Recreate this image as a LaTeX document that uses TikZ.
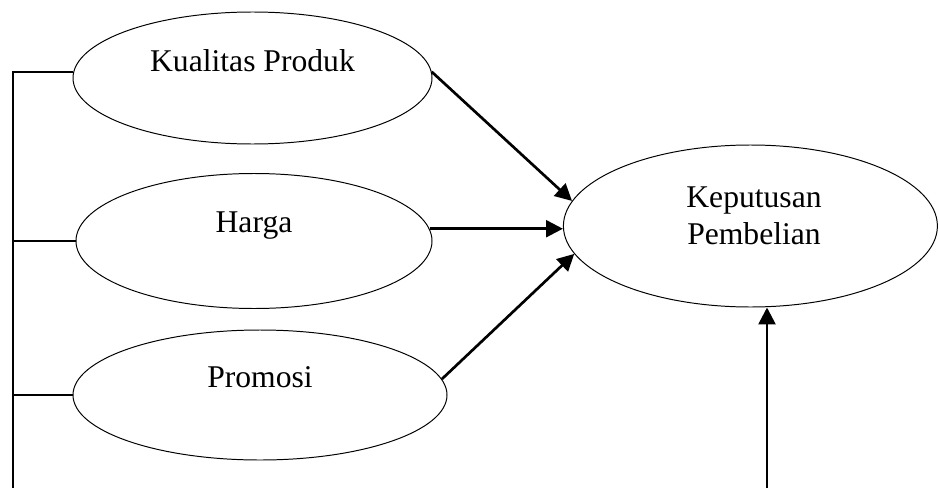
\documentclass[tikz,border=0pt]{standalone}
\usepackage{fontspec}
\setmainfont{Liberation Serif}
\usetikzlibrary{shapes, arrows.meta, positioning}

\begin{document}
\begin{tikzpicture}[-, >={Triangle[length=0.42cm, width=0.42cm]}, line width=1.5pt,
        var/.style={ellipse, draw, line width=0.7pt, inner sep=0pt},
        txt/.style={inner sep=0pt, align=center, font=\fontsize{22.5}{26.3}\selectfont},
        link/.style={->, line width=1.9pt}]
        \useasboundingbox (0, 0) rectangle (23.475, 12.2);
        \node [var, minimum width=8.975cm, minimum height=3.3cm] (kualitas) at (6.3125, 10.25) {};
        \node [var, minimum width=8.9cm, minimum height=3.375cm] (harga) at (6.35, 6.175) {};
        \node [var, minimum width=9.35cm, minimum height=3.25cm] (promosi) at (6.5, 2.325) {};
        \node [var, minimum width=9.35cm, minimum height=4.05cm] (keputusan) at (18.76, 6.55) {};
        \node [txt] (kualitasText) at ([yshift=0.44cm]kualitas.center) {Kualitas Produk};
        \node [txt] (hargaText) at ([yshift=0.375cm]harga.center) {Harga};
        \node [txt] (promosiText) at ([yshift=0.44cm]promosi.center) {Promosi};
        \node [txt] (keputusanText) at ([xshift=0.09cm, yshift=0.25cm]keputusan.center) {Keputusan\\Pembelian};
        \coordinate (busBottom) at (0.325, 0);
        \coordinate (feedBottom) at (19.175, 0);
        \draw (kualitas.178) -- (kualitas.178 -| busBottom) -- (busBottom);
        \draw (harga.west) -- (harga.west -| busBottom);
        \draw (promosi.west) -- (promosi.west -| busBottom);
        \path [link] (kualitas.2) edge (keputusan.172);
        \path [link] (harga.4) edge (harga.4 -| keputusan.west);
        \path [link] (promosi.5) edge (keputusan.189);
        \path [link] (feedBottom) edge (feedBottom |- keputusan.south);
    \end{tikzpicture}
\end{document}
